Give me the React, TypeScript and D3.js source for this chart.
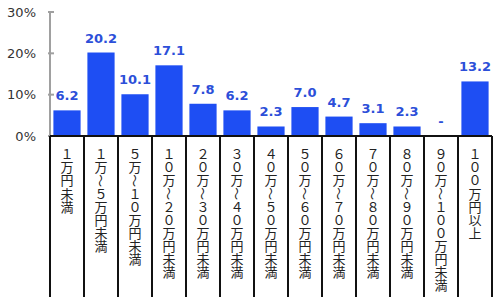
import React from 'react';
import * as d3 from 'd3';

const categories = [
  '１万円未満',
  '１万～５万円未満',
  '５万～１０万円未満',
  '１０万～２０万円未満',
  '２０万～３０万円未満',
  '３０万～４０万円未満',
  '４０万～５０万円未満',
  '５０万～６０万円未満',
  '６０万～７０万円未満',
  '７０万～８０万円未満',
  '８０万～９０万円未満',
  '９０万～１００万円未満',
  '１００万円以上',
];
const values: (number | null)[] = [6.2, 20.2, 10.1, 17.1, 7.8, 6.2, 2.3, 7.0, 4.7, 3.1, 2.3, null, 13.2];
const yTicks = [0, 10, 20, 30];

const W = 496;
const H = 297;
const BAR = '#1e4ef3';
const LABEL = '#2c4fd9';
const CHAR_STEP = 13.1;

export default function App() {
  // 軸の位置は元画像から読み取り
  const x = d3.scaleBand<string>().domain(categories).range([50, 492]).paddingInner(0.2).paddingOuter(0.1);
  const y = d3.scaleLinear().domain([0, 30]).range([136, 12]);
  const step = x.step();
  const x0 = 50;

  return (
    <svg width={W} height={H} style={{ position: 'absolute', left: 0, top: 0, background: '#fff' }}>
      {/* 縦軸 */}
      <line x1={x0} x2={x0} y1={y(30)} y2={y(0)} stroke="#a0a0a0" strokeWidth={2} />
      {yTicks.map(t => (
        <g key={t}>
          <line x1={x0 - 2} x2={x0 + 4} y1={y(t)} y2={y(t)} stroke="#a0a0a0" strokeWidth={2} />
          <text x={36} y={y(t)} dy="0.36em" textAnchor="end" fontFamily="DejaVu Sans" fontSize={13} fill="#333">
            {t}%
          </text>
        </g>
      ))}

      {/* 棒 */}
      {categories.map((c, i) => {
        const v = values[i];
        const cx = (x(c) ?? 0) + x.bandwidth() / 2;
        return (
          <g key={c}>
            {v != null && (
              <rect x={x(c)} y={y(v)} width={x.bandwidth()} height={y(0) - y(v)} fill={BAR} />
            )}
            <text
              x={cx}
              y={y(v ?? 0) - 10}
              textAnchor="middle"
              fontFamily="DejaVu Sans"
              fontWeight="bold"
              fontSize={13}
              fill={LABEL}
            >
              {v == null ? '-' : v.toFixed(1)}
            </text>
          </g>
        );
      })}

      {/* 表の枠 */}
      <line x1={x0} x2={x0 + step * categories.length} y1={y(0)} y2={y(0)} stroke="#111" strokeWidth={2} />
      {d3.range(categories.length + 1).map(i => (
        <line key={i} x1={x0 + step * i} x2={x0 + step * i} y1={y(0)} y2={H} stroke="#111" strokeWidth={2} />
      ))}

      {/* カテゴリ名（縦書き、1文字ずつ） */}
      {categories.map(c => {
        const cx = (x(c) ?? 0) + x.bandwidth() / 2;
        return (
          <g key={c} fontFamily="'Noto Sans CJK JP'" fontSize={13} fill="#222" textAnchor="middle">
            {Array.from(c).map((ch, j) => {
              const cy = 148 + CHAR_STEP * j + CHAR_STEP / 2;
              return (
                <text
                  key={j}
                  x={cx}
                  y={cy}
                  dy="0.36em"
                  transform={ch === '～' ? `rotate(90 ${cx} ${cy})` : undefined}
                >
                  {ch}
                </text>
              );
            })}
          </g>
        );
      })}
    </svg>
  );
}
